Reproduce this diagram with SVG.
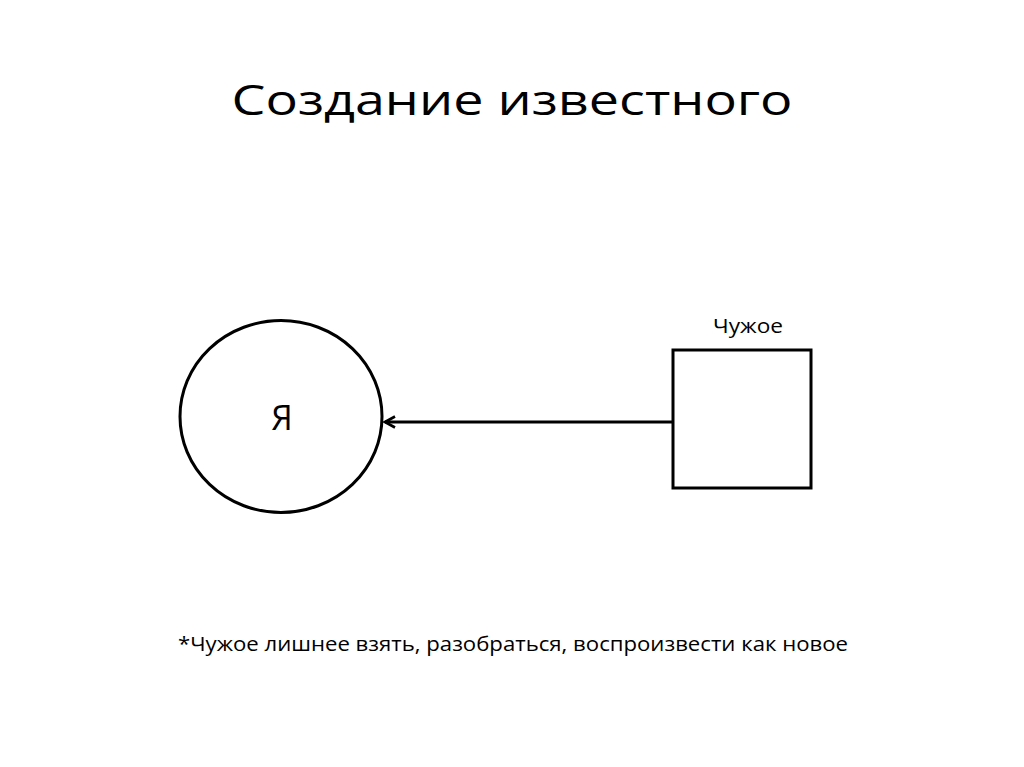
<svg xmlns="http://www.w3.org/2000/svg" width="1024" height="767" viewBox="0 0 1024 767">
<style>
text{font-family:"Open Sans","Noto Sans","Liberation Sans",sans-serif;fill:#000}
.shape{fill:#fff;stroke:#000;stroke-width:3}
</style>
<defs>
<marker id="arr" markerWidth="14" markerHeight="14" refX="12" refY="7" orient="auto" markerUnits="userSpaceOnUse" viewBox="0 0 14 14">
<path d="M2,1.5 L12,7 L2,12.5" fill="none" stroke="#000" stroke-width="2.6"/>
</marker>
</defs>
<rect width="1024" height="767" fill="#fff"/>
<text x="512" y="115" font-size="42" text-anchor="middle" textLength="561" lengthAdjust="spacingAndGlyphs">Создание известного</text>
<g id="node-ya">
<ellipse class="shape" cx="281" cy="416.5" rx="101" ry="96"/>
<text x="282" y="430" font-size="34" text-anchor="middle">Я</text>
</g>
<g id="node-chuzhoe">
<rect class="shape" x="673" y="350" width="138" height="138"/>
<text x="748" y="333" font-size="20" text-anchor="middle" textLength="70" lengthAdjust="spacingAndGlyphs">Чужое</text>
</g>
<g id="connectors">
<line x1="673" y1="422" x2="385" y2="422" stroke="#000" stroke-width="3" marker-end="url(#arr)"/>
</g>
<text x="513" y="651" font-size="20.5" text-anchor="middle" textLength="670" lengthAdjust="spacingAndGlyphs">*Чужое лишнее взять, разобраться, воспроизвести как новое</text>
</svg>
